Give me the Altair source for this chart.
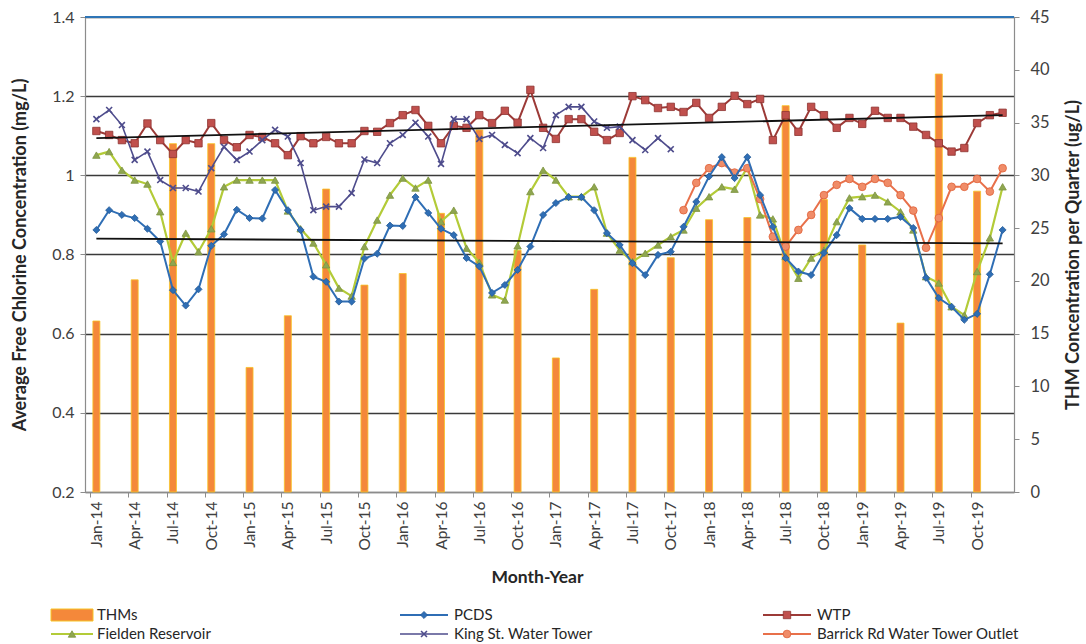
import json
import altair as alt
import pandas as pd

# ---- axis labels -------------------------------------------------------
quarter_labels = ["Jan-14", "Apr-14", "Jul-14", "Oct-14", "Jan-15", "Apr-15", "Jul-15", "Oct-15",
                  "Jan-16", "Apr-16", "Jul-16", "Oct-16", "Jan-17", "Apr-17", "Jul-17", "Oct-17",
                  "Jan-18", "Apr-18", "Jul-18", "Oct-18", "Jan-19", "Apr-19", "Jul-19", "Oct-19"]

# ---- THMs per quarter (ug/L), one bar at the first month of each quarter --
thm_quarterly = [16.2, 20.1, 33.0, 33.0, 11.8, 16.7, 28.7, 19.6, 20.7, 26.4, 34.3, 22.9,
                 12.7, 19.2, 31.7, 22.2, 25.8, 26.0, 36.6, 27.7, 23.4, 16.0, 39.6, 28.5]

# ---- monthly average free chlorine (mg/L), Jan-14 .. Dec-19 ----------------
wtp = [1.112, 1.102, 1.089, 1.081, 1.131, 1.089, 1.054, 1.089, 1.081, 1.132, 1.089, 1.071,
       1.102, 1.097, 1.081, 1.051, 1.099, 1.081, 1.097, 1.081, 1.081, 1.112, 1.110, 1.132,
       1.152, 1.165, 1.125, 1.081, 1.125, 1.120, 1.152, 1.132, 1.163, 1.133, 1.216, 1.120,
       1.092, 1.142, 1.142, 1.110, 1.089, 1.107, 1.200, 1.190, 1.170, 1.173, 1.160, 1.183,
       1.145, 1.173, 1.201, 1.180, 1.193, 1.089, 1.152, 1.110, 1.173, 1.152, 1.120, 1.145,
       1.130, 1.163, 1.145, 1.145, 1.123, 1.102, 1.081, 1.060, 1.069, 1.132, 1.152, 1.158]

pcds = [0.862, 0.912, 0.900, 0.892, 0.865, 0.833, 0.710, 0.671, 0.712, 0.822, 0.851, 0.913,
        0.892, 0.891, 0.963, 0.912, 0.862, 0.744, 0.731, 0.681, 0.681, 0.790, 0.802, 0.873,
        0.872, 0.945, 0.905, 0.865, 0.849, 0.791, 0.770, 0.703, 0.723, 0.761, 0.820, 0.900,
        0.930, 0.945, 0.945, 0.912, 0.854, 0.824, 0.778, 0.748, 0.799, 0.807, 0.870, 0.933,
        0.997, 1.046, 0.993, 1.046, 0.950, 0.870, 0.791, 0.757, 0.748, 0.804, 0.849, 0.917,
        0.890, 0.890, 0.890, 0.895, 0.867, 0.741, 0.690, 0.668, 0.635, 0.650, 0.750, 0.862]

fielden = [1.051, 1.060, 1.013, 0.988, 0.978, 0.908, 0.780, 0.854, 0.807, 0.865, 0.971, 0.988,
           0.988, 0.988, 0.988, 0.910, 0.865, 0.829, 0.774, 0.715, 0.695, 0.820, 0.887, 0.950,
           0.993, 0.968, 0.988, 0.883, 0.912, 0.816, 0.780, 0.698, 0.685, 0.822, 0.959, 1.013,
           0.988, 0.946, 0.946, 0.971, 0.854, 0.811, 0.782, 0.803, 0.824, 0.845, 0.862, 0.917,
           0.946, 0.971, 0.965, 1.020, 0.900, 0.890, 0.795, 0.740, 0.791, 0.811, 0.883, 0.943,
           0.946, 0.950, 0.933, 0.908, 0.862, 0.744, 0.728, 0.668, 0.647, 0.757, 0.842, 0.971]

# King St. Water Tower: Jan-14 .. Oct-17
king_st = [1.142, 1.165, 1.127, 1.039, 1.060, 0.988, 0.968, 0.968, 0.959, 1.018, 1.072, 1.039,
           1.060, 1.089, 1.115, 1.098, 1.031, 0.912, 0.921, 0.921, 0.955, 1.040, 1.031, 1.081,
           1.102, 1.133, 1.098, 1.029, 1.142, 1.142, 1.092, 1.102, 1.077, 1.056, 1.094, 1.069,
           1.152, 1.173, 1.173, 1.136, 1.120, 1.123, 1.089, 1.064, 1.094, 1.066]

# Barrick Rd Water Tower Outlet: Nov-17 .. Dec-19
barrick = [0.912, 0.981, 1.018, 1.031, 1.007, 1.018, 0.940, 0.845, 0.820, 0.862, 0.900, 0.950,
           0.976, 0.991, 0.971, 0.991, 0.981, 0.950, 0.911, 0.817, 0.892, 0.971, 0.971, 0.991,
           0.959, 1.018]
barrick_first_month = 46

# linear trend end points (Jan-14, Dec-19)
wtp_trend = [1.094, 1.152]
pcds_trend = [0.840, 0.828]

N_MONTHS = 72
W, H = 929, 475
HALF = W / N_MONTHS / 2
FONT = "Lato"


def monthly(name, values, start=0):
    return pd.DataFrame({"idx": list(range(start, start + len(values))),
                         "val": values, "series": name})


thm_df = pd.DataFrame({"idx": list(range(0, N_MONTHS, 3)), "thm": thm_quarterly})

X = alt.X("idx:Q",
          scale=alt.Scale(domain=[-0.5, N_MONTHS - 0.5], nice=False, zero=False),
          axis=alt.Axis(values=list(range(0, N_MONTHS + 1, 3)),
                        labelExpr=json.dumps(quarter_labels) + "[datum.value / 3] || ''",
                        labelAngle=-90, labelFontSize=15.5, labelPadding=4,
                        tickOffset=-HALF, labelOffset=HALF, tickSize=5,
                        grid=False, title="Month-Year", titleFontSize=17.5,
                        titleFontWeight="bold", titlePadding=18, titleX=452))

YL = alt.Y("val:Q",
           scale=alt.Scale(domain=[0.2, 1.4], nice=False, zero=False),
           axis=alt.Axis(orient="left", values=[0.2, 0.4, 0.6, 0.8, 1.0, 1.2, 1.4],
                         format="~g", grid=True, gridColor="#3a3a3a", gridWidth=1.3,
                         tickSize=5, labelFontSize=16, labelPadding=6,
                         title="Average Free Chlorine Concentration (mg/L)",
                         titleFontSize=18, titleFontWeight="bold", titlePadding=22))

YR = alt.Y("thm:Q",
           scale=alt.Scale(domain=[0, 45], nice=False, zero=True),
           axis=alt.Axis(orient="right", values=list(range(0, 50, 5)), grid=False,
                         tickSize=5, labelFontSize=16.5, labelPadding=11,
                         title="THM Concentration per Quarter (ug/L)", titleAngle=-90,
                         titleFontSize=18, titleFontWeight="bold", titlePadding=33))

bars = alt.Chart(thm_df).mark_bar(size=7, color="#F4883A", stroke="#F7C426",
                                  strokeWidth=0.8).encode(x=X, y=YR)

# ---- series styles ----------------------------------------------------------
X_SHAPE = "M-0.8,-0.8L0.8,0.8M-0.8,0.8L0.8,-0.8"
styles = [
    # name, data, line colour, marker shape, marker fill, marker stroke, size, filled, line width
    ("WTP", monthly("WTP", wtp), "#9C3A37", "square", "#C0504D", "#8E3431", 55, True, 2.0),
    ("King St. Water Tower", monthly("King St. Water Tower", king_st), "#4E4C8C", X_SHAPE,
     None, "#4E4C8C", 55, False, 1.6),
    ("Fielden Reservoir", monthly("Fielden Reservoir", fielden), "#B3CB38", "triangle-up",
     "#8FA650", "#7D9440", 55, True, 2.2),
    ("Barrick Rd Water Tower Outlet", monthly("Barrick Rd Water Tower Outlet", barrick,
                                              barrick_first_month),
     "#E8704A", "circle", "#F08C68", "#E0623A", 60, True, 2.0),
    ("PCDS", monthly("PCDS", pcds), "#2F6EB5", "diamond", "#2F6EB5", "#245A96", 50, True, 2.0),
]

layers = []

# top frame line at 1.4
layers.append(alt.Chart(pd.DataFrame({"val": [1.4]}))
              .mark_rule(color="#2E75B6", strokeWidth=2).encode(y=YL))

for name, df, lc, shape, fill, stroke, size, filled, lw in styles:
    layers.append(alt.Chart(df).mark_line(color=lc, strokeWidth=lw).encode(x=X, y=YL))
    if filled:
        pt = alt.Chart(df).mark_point(shape=shape, filled=True, fill=fill, stroke=stroke,
                                      strokeWidth=0.8, size=size, opacity=1)
    else:
        pt = alt.Chart(df).mark_point(shape=shape, filled=False, stroke=stroke,
                                      strokeWidth=1.6, size=size, opacity=1)
    layers.append(pt.encode(x=X, y=YL))

trend_df = pd.concat([
    pd.DataFrame({"idx": [0, N_MONTHS - 1], "val": wtp_trend, "trend": "WTP"}),
    pd.DataFrame({"idx": [0, N_MONTHS - 1], "val": pcds_trend, "trend": "PCDS"}),
])
layers.append(alt.Chart(trend_df).mark_line(color="#111111", strokeWidth=1.8)
              .encode(x=X, y=YL, detail="trend:N"))

# ---- legend below the plot (pixel positions relative to the plot origin) ----
one = pd.DataFrame({"k": [0]})
ROW1, ROW2 = 598, 617
COLS = [(-34, 8, 12), (315, 363, 369), (678, 726, 732)]
legend_items = [
    (0, ROW1, "THMs", None), (1, ROW1, "PCDS", 4), (2, ROW1, "WTP", 0),
    (0, ROW2, "Fielden Reservoir", 2), (1, ROW2, "King St. Water Tower", 1),
    (2, ROW2, "Barrick Rd Water Tower Outlet", 3),
]
for col, row_y, label, sidx in legend_items:
    x1, x2, tx = COLS[col]
    if sidx is None:
        layers.append(alt.Chart(one).mark_rect(color="#F4883A", stroke="#F7C426",
                                               strokeWidth=1)
                      .encode(x=alt.value(x1), x2=alt.value(x2),
                              y=alt.value(row_y - 6), y2=alt.value(row_y + 6)))
    else:
        _, _, lc, shape, fill, stroke, size, filled, lw = styles[sidx]
        layers.append(alt.Chart(one).mark_rule(color=lc, strokeWidth=lw)
                      .encode(x=alt.value(x1), x2=alt.value(x2), y=alt.value(row_y)))
        if filled:
            mk = alt.Chart(one).mark_point(shape=shape, filled=True, fill=fill, stroke=stroke,
                                           strokeWidth=0.8, size=size, opacity=1)
        else:
            mk = alt.Chart(one).mark_point(shape=shape, filled=False, stroke=stroke,
                                           strokeWidth=1.6, size=size, opacity=1)
        layers.append(mk.encode(x=alt.value((x1 + x2) / 2), y=alt.value(row_y)))
    layers.append(alt.Chart(one).mark_text(align="left", baseline="middle", font=FONT,
                                           fontSize=15, color="#262626")
                  .encode(x=alt.value(tx), y=alt.value(row_y), text=alt.value(label)))

lines_group = alt.layer(*layers)

chart = (
    alt.layer(bars, lines_group)
    .resolve_scale(y="independent")
    .properties(width=W, height=H,
                padding={"left": 85, "top": 17, "right": 72, "bottom": 152},
                autosize=alt.AutoSizeParams(type="none"))
    .configure(background="white")
    .configure_view(stroke=None)
    .configure_axis(labelFont=FONT, titleFont=FONT, labelColor="#404040",
                    titleColor="#262626", domainColor="#8c8c8c", tickColor="#8c8c8c",
                    domainWidth=1.2)
)

chart.save("out.html", embed_options={"renderer": "svg", "actions": False})
